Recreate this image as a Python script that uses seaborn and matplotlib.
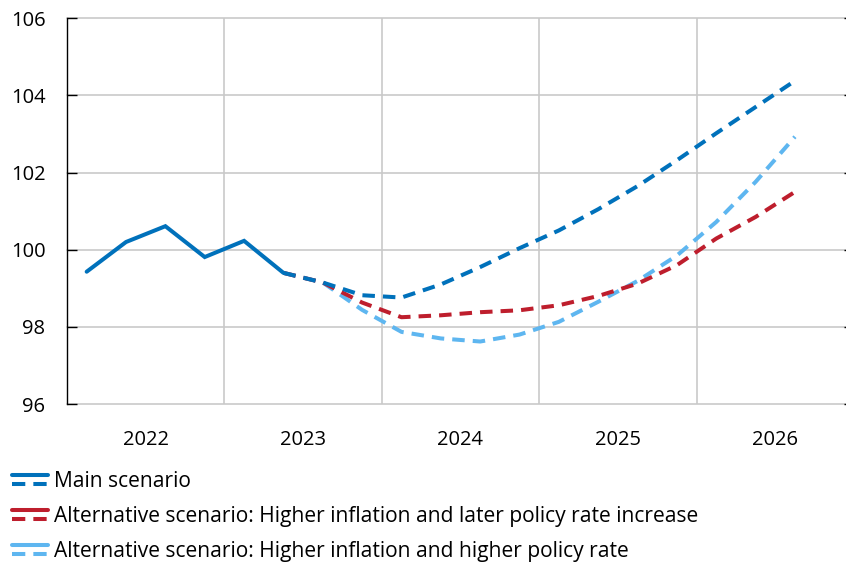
import matplotlib
matplotlib.use("Agg")
import matplotlib.pyplot as plt
from matplotlib.legend_handler import HandlerBase
from matplotlib.lines import Line2D
import seaborn as sns
import pandas as pd

# ---------------- data ----------------
actual_quarters = ["2022Q1", "2022Q2", "2022Q3", "2022Q4", "2023Q1", "2023Q2"]
actual_values = [99.43, 100.20, 100.61, 99.81, 100.23, 99.40]

forecast_quarters = ["2023Q2", "2023Q3", "2023Q4", "2024Q1", "2024Q2", "2024Q3", "2024Q4",
                     "2025Q1", "2025Q2", "2025Q3", "2025Q4", "2026Q1", "2026Q2", "2026Q3"]
main_values = [99.40, 99.15, 98.82, 98.76, 99.10, 99.55, 100.04,
               100.50, 101.05, 101.65, 102.32, 103.02, 103.70, 104.38]
later_rate_values = [99.40, 99.15, 98.63, 98.25, 98.30, 98.38, 98.43,
                     98.56, 98.80, 99.12, 99.60, 100.29, 100.85, 101.50]
higher_rate_values = [99.40, 99.15, 98.44, 97.87, 97.70, 97.62, 97.80,
                      98.13, 98.65, 99.19, 99.85, 100.72, 101.76, 102.93]

series_names = ["Main scenario",
                "Alternative scenario: Higher inflation and later policy rate increase",
                "Alternative scenario: Higher inflation and higher policy rate"]
year_labels = ["2022", "2023", "2024", "2025", "2026"]
y_ticks = [96, 98, 100, 102, 104, 106]

colors = {series_names[0]: "#0071BB",
          series_names[1]: "#BE1E2D",
          series_names[2]: "#5EB6F0"}


def qpos(q):
    year, quarter = q.split("Q")
    return int(year) + (int(quarter) - 0.5) / 4.0


actual_df = pd.DataFrame({"x": [qpos(q) for q in actual_quarters], "value": actual_values})
forecast_df = pd.concat([
    pd.DataFrame({"x": [qpos(q) for q in forecast_quarters], "value": vals, "series": name})
    for name, vals in zip(series_names, [main_values, later_rate_values, higher_rate_values])
])

# ---------------- figure ----------------
sns.set_theme(style="white")
plt.rcParams["font.family"] = ["Open Sans", "DejaVu Sans"]

W, H = 846, 565
fig = plt.figure(figsize=(W / 100, H / 100), dpi=100)
ax_left, ax_right, ax_top, ax_bottom = 67, 854, 18.3, 404
ax = fig.add_axes([ax_left / W, (H - ax_bottom) / H, (ax_right - ax_left) / W, (ax_bottom - ax_top) / H])

LW = 2.9
dash = (0, (3.1, 2.0))

handles = {}
for name in [series_names[2], series_names[1], series_names[0]]:
    sub = forecast_df[forecast_df["series"] == name]
    sns.lineplot(data=sub, x="x", y="value", ax=ax, color=colors[name], linewidth=LW,
                 linestyle=dash, errorbar=None, sort=True, legend=False)
    handles[name] = ax.lines[-1]

sns.lineplot(data=actual_df, x="x", y="value", ax=ax, color=colors[series_names[0]],
             linewidth=LW, errorbar=None, legend=False, solid_joinstyle="miter")

ax.set_xlim(2022, 2027)
ax.set_ylim(96, 106)
ax.set_xlabel("")
ax.set_ylabel("")

# gridlines
ax.set_xticks([2023, 2024, 2025, 2026])
ax.set_xticks([int(y) + 0.5 for y in year_labels], minor=True)
ax.set_xticklabels([])
ax.set_xticklabels(year_labels, minor=True)
ax.set_yticks(y_ticks)
ax.set_yticklabels([str(v) for v in y_ticks])
ax.grid(True, which="major", color="#C9C9C9", linewidth=1.2)
ax.set_axisbelow(True)
for gl in ax.get_ygridlines():
    gl.set_clip_on(False)

ax.tick_params(axis="x", which="both", length=0)
ax.tick_params(axis="x", which="minor", pad=19, labelsize=14.5, labelcolor="black")
ax.tick_params(axis="y", direction="in", length=7.5, width=1.0, color="black",
               left=True, right=True, pad=15.5, labelsize=14.5, labelcolor="black")

for side in ["top", "bottom"]:
    ax.spines[side].set_visible(False)
ax.spines["left"].set_color("black")
ax.spines["left"].set_linewidth(1.0)
ax.spines["right"].set_color("black")
ax.spines["right"].set_linewidth(1.0)


# ---------------- legend ----------------
class TwoLineHandler(HandlerBase):
    def create_artists(self, legend, orig_handle, xdescent, ydescent, width, height,
                       fontsize, trans):
        c = orig_handle.get_color()
        x0, x1 = -xdescent, -xdescent + width
        yc = -ydescent + height / 2.0
        off = 3.0
        top = Line2D([x0, x1], [yc + off, yc + off], color=c, linewidth=LW, transform=trans)
        bot = Line2D([x0, x1], [yc - off, yc - off], color=c, linewidth=LW,
                     linestyle=(0, (3.3, 2.0)), transform=trans)
        return [top, bot]


leg = fig.legend([handles[n] for n in series_names], series_names,
                 loc="upper left", bbox_to_anchor=(12 / W, 1 - 471 / H),
                 frameon=False, fontsize=15.1, borderpad=0, borderaxespad=0,
                 handlelength=1.72, handletextpad=0.29, labelspacing=0.66,
                 handler_map={Line2D: TwoLineHandler()})
for t in leg.get_texts():
    t.set_color("black")

fig.savefig("out.png", dpi=100)
